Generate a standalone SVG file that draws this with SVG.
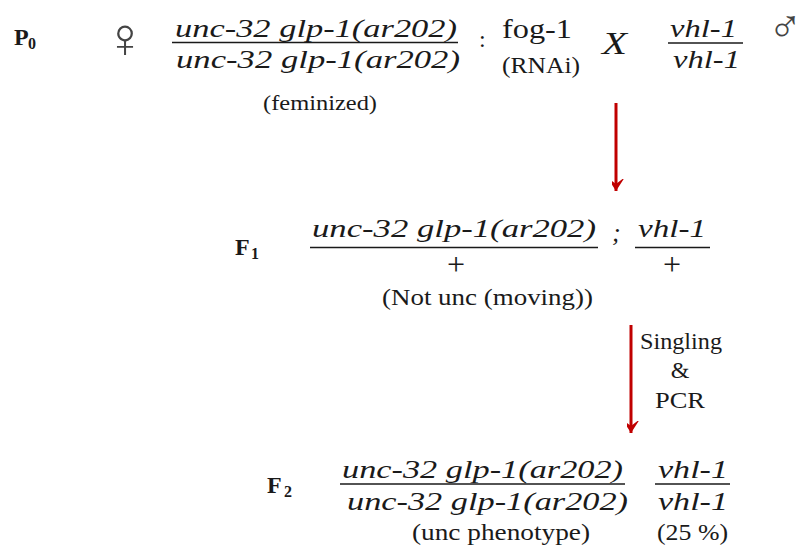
<svg xmlns="http://www.w3.org/2000/svg" width="804" height="553" viewBox="0 0 804 553">
<defs>
<style>
text{font-family:"Liberation Serif","Times New Roman",serif;fill:#1a1a1a}
.it{font-style:italic;font-size:26px}
.gen{font-weight:bold;font-size:24px}
.sub{font-weight:bold;font-size:16px}
.lbl{font-size:24px}
.plus{font-size:32px}
.sym{font-size:56px;fill:#444}
.bar{stroke:#1a1a1a;stroke-width:1.6}
.arrow{stroke:#c00000;stroke-width:3;fill:none}
</style>
<marker id="ah" markerUnits="userSpaceOnUse" markerWidth="24" markerHeight="24" viewBox="-12 -20 24 24" refX="0" refY="0" orient="auto-start-reverse">
<path d="M0,0 L-9,-14 L0,-7 L9,-14 Z" transform="rotate(-90)" fill="#c00000"/>
</marker>
</defs>
<rect width="804" height="553" fill="#ffffff"/>

<g id="P0">
<text class="gen" x="14" y="45">P</text>
<text class="sub" x="28" y="49">0</text>
<text class="sym" x="104" y="57">♀</text>
<text class="it" x="175" y="37" textLength="282" lengthAdjust="spacingAndGlyphs">unc-32 glp-1(ar202)</text>
<line class="bar" x1="172" y1="42.5" x2="458" y2="42.5"/>
<text class="it" x="176" y="68" textLength="284" lengthAdjust="spacingAndGlyphs">unc-32 glp-1(ar202)</text>
<text class="lbl" style="font-size:22px" x="263" y="110" textLength="114" lengthAdjust="spacingAndGlyphs">(feminized)</text>
<text class="lbl" x="479" y="47">:</text>
<text class="lbl" style="font-size:28px" x="502" y="38" textLength="70" lengthAdjust="spacingAndGlyphs">fog-1</text>
<text class="lbl" x="502" y="73" textLength="78" lengthAdjust="spacingAndGlyphs">(RNAi)</text>
<text class="it" style="font-size:32px" x="602" y="54" textLength="25" lengthAdjust="spacingAndGlyphs">X</text>
<text class="it" x="670" y="37" textLength="67" lengthAdjust="spacingAndGlyphs">vhl-1</text>
<line class="bar" x1="668" y1="43" x2="743" y2="43"/>
<text class="it" x="673" y="68" textLength="67" lengthAdjust="spacingAndGlyphs">vhl-1</text>
<text class="sym" style="font-size:46px" x="768" y="42">♂</text>
</g>

<g id="F1">
<text class="gen" x="235" y="255">F</text>
<text class="sub" x="251" y="259">1</text>
<text class="it" x="312" y="237" textLength="284" lengthAdjust="spacingAndGlyphs">unc-32 glp-1(ar202)</text>
<line class="bar" x1="310" y1="247.5" x2="598" y2="247.5"/>
<text class="plus" x="456" y="275" text-anchor="middle">+</text>
<text class="it" x="612" y="241">;</text>
<text class="it" x="638" y="237" textLength="68" lengthAdjust="spacingAndGlyphs">vhl-1</text>
<line class="bar" x1="635" y1="247.5" x2="710" y2="247.5"/>
<text class="plus" x="672" y="275" text-anchor="middle">+</text>
<text class="lbl" x="382" y="305" textLength="211" lengthAdjust="spacingAndGlyphs">(Not unc (moving))</text>
</g>

<g id="F2">
<text class="gen" x="267" y="493">F</text>
<text class="sub" x="284" y="497">2</text>
<text class="it" x="342" y="478" textLength="281" lengthAdjust="spacingAndGlyphs">unc-32 glp-1(ar202)</text>
<line class="bar" x1="340" y1="484" x2="625" y2="484"/>
<text class="it" x="347" y="510" textLength="281" lengthAdjust="spacingAndGlyphs">unc-32 glp-1(ar202)</text>
<text class="lbl" x="412" y="540" textLength="178" lengthAdjust="spacingAndGlyphs">(unc phenotype)</text>
<text class="it" x="658" y="478" textLength="70" lengthAdjust="spacingAndGlyphs">vhl-1</text>
<line class="bar" x1="655" y1="484" x2="730" y2="484"/>
<text class="it" x="658" y="510" textLength="70" lengthAdjust="spacingAndGlyphs">vhl-1</text>
<text class="lbl" x="657" y="540" textLength="71" lengthAdjust="spacingAndGlyphs">(25 %)</text>
</g>

<g id="connectors">
<line class="arrow" x1="616" y1="103" x2="616" y2="191" marker-end="url(#ah)"/>
<line class="arrow" x1="631" y1="325" x2="631" y2="433" marker-end="url(#ah)"/>
<text class="lbl" x="681" y="349" text-anchor="middle" textLength="82" lengthAdjust="spacingAndGlyphs">Singling</text>
<text class="lbl" x="680" y="378" text-anchor="middle">&amp;</text>
<text class="lbl" x="680" y="408" text-anchor="middle" textLength="50" lengthAdjust="spacingAndGlyphs">PCR</text>
</g>
</svg>
